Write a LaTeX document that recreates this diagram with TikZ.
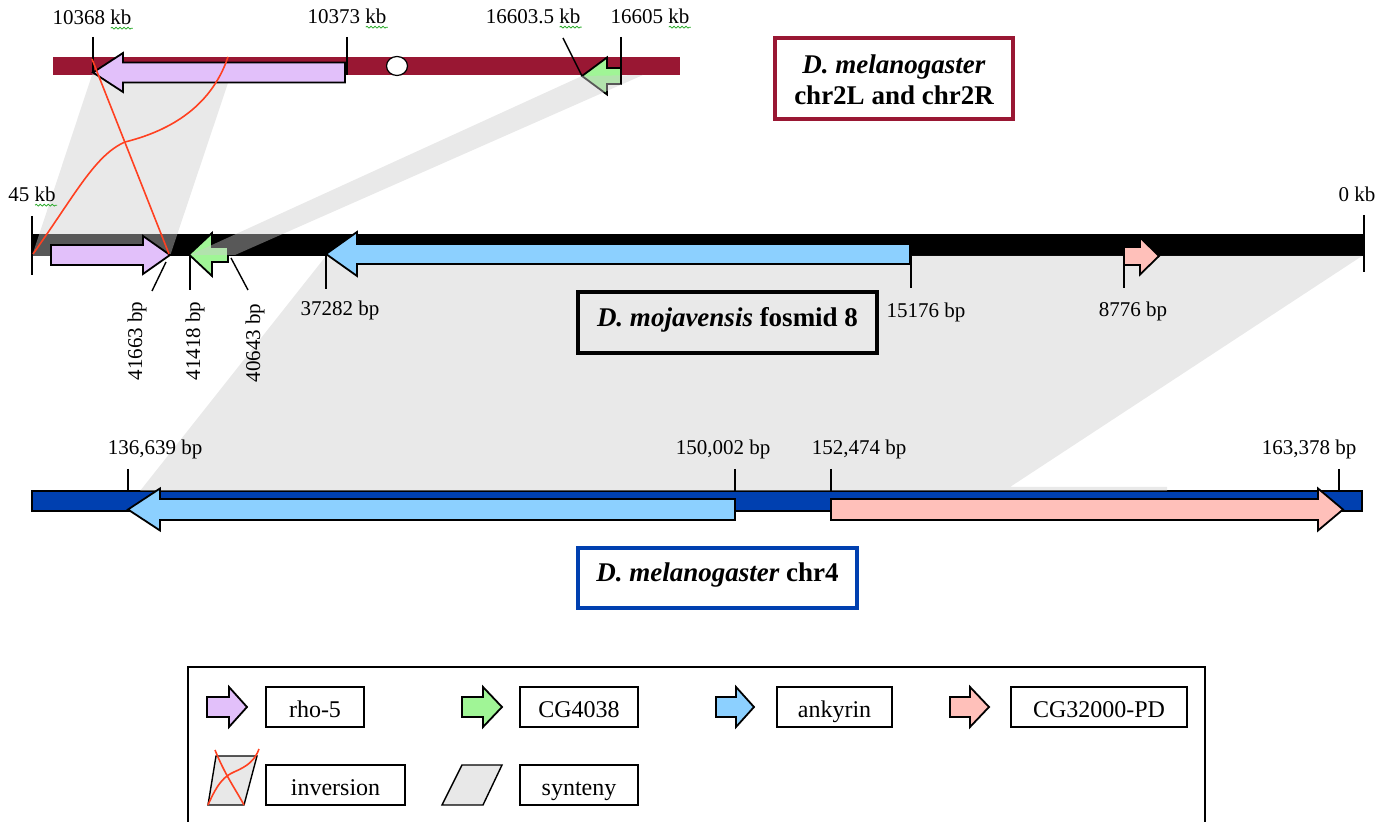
\documentclass[tikz,border=0pt]{standalone}
\usepackage{fontspec}
\setmainfont{Liberation Serif}
\usetikzlibrary{decorations.pathmorphing}
\definecolor{chrred}{RGB}{153,23,51}
\definecolor{rhocol}{RGB}{226,192,250}
\definecolor{cgcol}{RGB}{160,245,150}
\definecolor{ankcol}{RGB}{140,208,255}
\definecolor{pdcol}{RGB}{255,192,186}
\definecolor{chrblue}{RGB}{0,64,176}
\definecolor{synt}{RGB}{204,204,204}
\definecolor{leggray}{RGB}{232,232,232}
\definecolor{invred}{RGB}{255,64,32}
\definecolor{squigcol}{RGB}{40,170,40}
% #1 style, #2 x tail, #3 x head base, #4 x tip, #5 y centre, #6 half body, #7 half head
\newcommand\genearrow[7]{%
  \filldraw[#1] ({#2},{#5-#6}) -- ({#3},{#5-#6}) -- ({#3},{#5-#7}) -- ({#4},{#5})
    -- ({#3},{#5+#7}) -- ({#3},{#5+#6}) -- ({#2},{#5+#6}) -- cycle;}
\begin{document}
\begin{tikzpicture}[x=0.5pt,y=-0.5pt,
  gene/.style={draw=black,line width=0.9pt,line join=miter},
  tick/.style={draw=black,line width=0.7pt},
  syn/.style={fill=synt,fill opacity=0.43,draw=none},
  inv/.style={draw=invred,line width=0.8pt},
  lbl/.style={font=\fontsize{10.5}{12}\selectfont,inner sep=0pt},
  legbox/.style={draw=black,line width=0.7pt,minimum height=20pt,inner sep=0pt,
    text height=11.5pt,text depth=1.5pt,font=\fontsize{12}{14}\selectfont},
  ttlbox/.style={inner sep=0pt},
  ttl/.style={font=\fontsize{13.5}{15.5}\selectfont\bfseries,align=center,inner sep=0pt},
  squig/.style={draw=squigcol,line width=0.4pt,decorate,decoration={snake,amplitude=0.45pt,segment length=2pt}}
]
\useasboundingbox (0,0) rectangle (1396,822);
\clip (0,0) rectangle (1396,822);

% chromosome bars
\fill[chrred] (53,57) rectangle (680,75);
\fill[black] (32,234) rectangle (1364,256);
\filldraw[fill=chrblue,draw=black,line width=0.6pt] (32,491) rectangle (1362,511);
\filldraw[fill=white,draw=black,line width=0.6pt] (397,66) ellipse [x radius=10.5, y radius=9.5];

% synteny regions (under genes)
\fill[syn] (93,72) -- (228,83) -- (170,256) -- (32,256) -- cycle;
\fill[syn] (326,256) -- (1362,256) -- (1010,487) -- (1167,487) -- (1167,491) -- (140,491) -- cycle;

% genes
\genearrow{gene,fill=rhocol}{345}{123}{93}{72.5}{10}{19.5}
\genearrow{gene,fill=cgcol}{621}{607}{582}{76}{8}{18.5}
\genearrow{gene,fill=rhocol}{51}{143}{170}{255}{10}{19}
\genearrow{gene,fill=cgcol}{228}{212}{189}{254.5}{7.5}{21.5}
\genearrow{gene,fill=ankcol}{910}{357}{326}{254}{10}{22}
\genearrow{gene,fill=pdcol}{1124}{1140}{1159}{256}{9}{18.5}
\genearrow{gene,fill=ankcol}{735}{160}{128}{509.5}{10.5}{21}
\genearrow{gene,fill=pdcol}{831}{1318}{1343}{509.5}{10.5}{21}

% synteny band of CG4038 (over the genes)
\fill[syn] (582,76) -- (643,75) -- (235,255) -- (190,255) -- cycle;

% ticks
\draw[tick] (93,37) -- (93,72);
\draw[tick] (347,37) -- (347,75);
\draw[tick] (621,37) -- (621,84);
\draw[tick] (563,38) -- (582,76);
\draw[tick] (32,216) -- (32,275);
\draw[tick] (1364,215) -- (1364,272);
\draw[tick] (166,262) -- (152,291);
\draw[tick] (190,255) -- (190,290);
\draw[tick] (231,258) -- (248,290);
\draw[tick] (326,255) -- (326,289);
\draw[tick] (911,256) -- (911,288);
\draw[tick] (1124,256) -- (1124,288);
\draw[tick] (128,469) -- (128,491);
\draw[tick] (735,469) -- (735,491);
\draw[tick] (831,469) -- (831,491);
\draw[tick] (1339,469) -- (1339,491);

% inversion lines
\draw[inv] (92,59) -- (169,254);
\draw[inv] (33,254) .. controls (75,195) and (95,155) .. (125,142) .. controls (165,132) and (210,110) .. (228,57);

% position labels
\node[lbl] (l10368) at (92,17) {10368 kb};
\node[lbl] (l10373) at (347,16) {10373 kb};
\node[lbl] (l16603) at (533,16) {16603.5 kb};
\node[lbl] (l16605) at (650,16) {16605 kb};
\node[lbl] (l45) at (32,194) {45 kb};
\node[lbl] (l0) at (1357,194) {0 kb};
\node[lbl,rotate=90] (l41663) at (137,341) {41663 bp};
\node[lbl,rotate=90] (l41418) at (195,341) {41418 bp};
\node[lbl,rotate=90] (l40643) at (255,343) {40643 bp};
\node[lbl] (l37282) at (340,310) {37282 bp};
\node[lbl] (l15176) at (926,312) {15176 bp};
\node[lbl] (l8776) at (1133,311) {8776 bp};
\node[lbl] (l136) at (155,449) {136,639 bp};
\node[lbl] (l150) at (723,449) {150,002 bp};
\node[lbl] (l152) at (859,449) {152,474 bp};
\node[lbl] (l163) at (1309,449) {163,378 bp};
\foreach \n in {l10368,l10373,l16603,l16605,l45}
  \draw[squig] ([xshift=-10.5pt,yshift=-2pt]\n.base east) -- ([xshift=0.5pt,yshift=-2pt]\n.base east);

% title boxes
\node[ttlbox,draw=chrred,line width=1.6pt,minimum width=119pt,minimum height=40.5pt] (b1) at (894,78.5) {};
\node[ttl] (t1) at (894,79.5) {\textit{D. melanogaster}\\chr2L and chr2R};
\node[ttlbox,draw=black,line width=2pt,minimum width=149.5pt,minimum height=30.5pt] (b2) at (727.5,323) {};
\node[ttl] (t2) at (727.5,320) {\textit{D. mojavensis} fosmid 8};
\node[ttlbox,draw=chrblue,line width=2pt,minimum width=139.5pt,minimum height=30pt] (b3) at (717.5,578) {};
\node[ttl] (t3) at (717.5,575) {\textit{D. melanogaster} chr4};

% legend
\draw[line width=0.7pt] (188,667) rectangle (1205,860);
\genearrow{gene,fill=rhocol}{207}{229}{247}{707}{10}{20}
\genearrow{gene,fill=cgcol}{462}{483}{502}{707}{10}{20}
\genearrow{gene,fill=ankcol}{716}{736}{754}{707}{10}{20}
\genearrow{gene,fill=pdcol}{950}{970}{989}{707}{10}{20}
\node[legbox,minimum width=49pt] (k1) at (315,707) {rho-5};
\node[legbox,minimum width=59pt] (k2) at (579,707) {CG4038};
\node[legbox,minimum width=57.5pt] (k3) at (834.5,707) {ankyrin};
\node[legbox,minimum width=88pt] (k4) at (1099,707) {CG32000-PD};
\filldraw[fill=leggray,draw=black,line width=0.7pt] (216,756) -- (257,756) -- (244,805) -- (208,805) -- cycle;
\draw[inv] (215,750) .. controls (225,775) and (236,790) .. (244,805);
\draw[inv] (208,805) .. controls (218,782) and (225,776) .. (234,772) .. controls (248,766) and (255,760) .. (259,749);
\node[legbox,minimum width=69.5pt] (k5) at (335.5,785) {inversion};
\filldraw[fill=leggray,draw=black,line width=0.7pt] (462,765) -- (502,765) -- (483,805) -- (442,805) -- cycle;
\node[legbox,minimum width=59pt] (k6) at (579,785) {synteny};
\end{tikzpicture}
\end{document}
